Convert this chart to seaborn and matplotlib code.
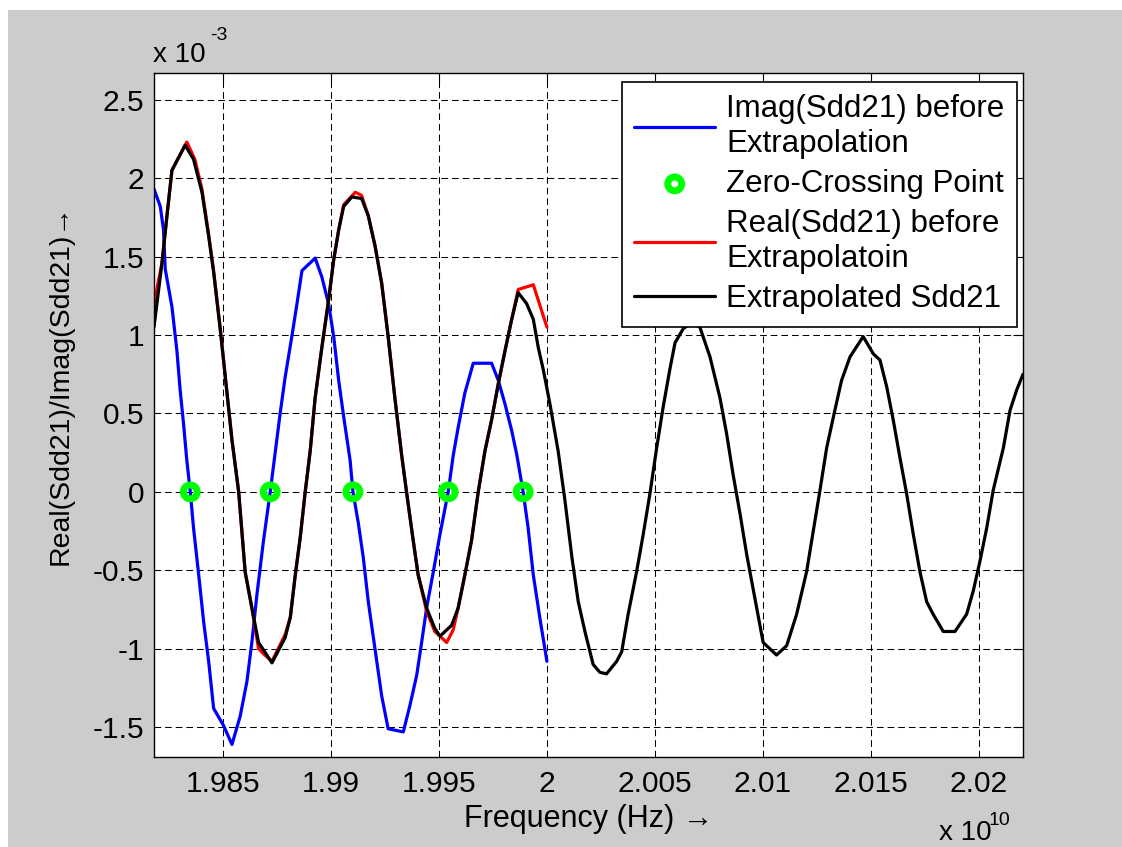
import matplotlib
matplotlib.use("Agg")
import matplotlib.pyplot as plt
from matplotlib.patches import Rectangle
from matplotlib.ticker import FuncFormatter
import seaborn as sns

# frequency in units of 1e10 Hz, S-parameter values in units of 1e-3
imag_freq = [1.98181, 1.98210, 1.98225, 1.98233, 1.98264, 1.98287, 1.98302, 1.98318, 1.98333, 1.98349,
             1.98364, 1.98388, 1.98411, 1.98434, 1.98457, 1.98503, 1.98542, 1.98580, 1.98611, 1.98634,
             1.98657, 1.98688, 1.98719, 1.98742, 1.98765, 1.98788, 1.98819, 1.98843, 1.98866, 1.98927,
             1.98958, 1.98989, 1.99013, 1.99036, 1.99059, 1.99089, 1.99102, 1.99127, 1.99150, 1.99173,
             1.99204, 1.99235, 1.99265, 1.99335, 1.99366, 1.99397, 1.99420, 1.99443, 1.99474, 1.99505,
             1.99543, 1.99566, 1.99589, 1.99620, 1.99659, 1.99744, 1.99775, 1.99806, 1.99837, 1.99860,
             1.99890, 1.99913, 1.99937, 1.99968, 2.00000]
imag_vals = [1.93, 1.82, 1.67, 1.42, 1.18, 0.90, 0.65, 0.43, 0.20, 0.00,
             -0.23, -0.53, -0.83, -1.08, -1.38, -1.49, -1.61, -1.43, -1.21, -0.96,
             -0.66, -0.31, 0.00, 0.25, 0.50, 0.73, 0.99, 1.20, 1.41, 1.49,
             1.37, 1.20, 0.99, 0.71, 0.48, 0.20, 0.00, -0.20, -0.42, -0.70,
             -1.00, -1.30, -1.51, -1.53, -1.36, -1.17, -0.96, -0.74, -0.51, -0.27,
             0.00, 0.23, 0.41, 0.63, 0.82, 0.82, 0.71, 0.56, 0.39, 0.24,
             0.00, -0.23, -0.53, -0.81, -1.08]

zero_freq = [1.98349, 1.98719, 1.99102, 1.99543, 1.99890]
zero_vals = [0.0, 0.0, 0.0, 0.0, 0.0]

real_freq = [1.98181, 1.98218, 1.98241, 1.98264, 1.98333, 1.98370, 1.98403, 1.98434, 1.98457, 1.98488,
             1.98519, 1.98542, 1.98573, 1.98603, 1.98634, 1.98665, 1.98694, 1.98727, 1.98788, 1.98812,
             1.98835, 1.98858, 1.98881, 1.98904, 1.98927, 1.98958, 1.98989, 1.99013, 1.99036, 1.99059,
             1.99113, 1.99142, 1.99173, 1.99204, 1.99235, 1.99265, 1.99296, 1.99327, 1.99350, 1.99381,
             1.99404, 1.99443, 1.99481, 1.99536, 1.99566, 1.99589, 1.99620, 1.99651, 1.99682, 1.99713,
             1.99744, 1.99775, 1.99806, 1.99837, 1.99867, 1.99937, 2.00000]
real_vals = [1.20, 1.46, 1.76, 2.05, 2.23, 2.12, 1.93, 1.64, 1.41, 1.04,
             0.63, 0.33, 0.00, -0.51, -0.74, -1.00, -1.04, -1.08, -0.91, -0.80,
             -0.53, -0.29, 0.00, 0.26, 0.60, 0.92, 1.22, 1.48, 1.67, 1.83,
             1.91, 1.89, 1.76, 1.57, 1.33, 0.99, 0.60, 0.24, 0.00, -0.31,
             -0.53, -0.76, -0.89, -0.96, -0.88, -0.74, -0.53, -0.31, 0.00, 0.26,
             0.46, 0.69, 0.90, 1.10, 1.29, 1.32, 1.05]

extrap_freq = [1.98181, 1.98218, 1.98241, 1.98264, 1.98325, 1.98364, 1.98403, 1.98434, 1.98457, 1.98488,
               1.98519, 1.98542, 1.98573, 1.98603, 1.98634, 1.98665, 1.98727, 1.98788, 1.98812, 1.98835,
               1.98858, 1.98881, 1.98904, 1.98927, 1.98958, 1.98989, 1.99013, 1.99036, 1.99059, 1.99097,
               1.99142, 1.99173, 1.99204, 1.99235, 1.99265, 1.99296, 1.99327, 1.99350, 1.99381, 1.99404,
               1.99443, 1.99481, 1.99505, 1.99559, 1.99589, 1.99620, 1.99651, 1.99682, 1.99713, 1.99744,
               1.99775, 1.99806, 1.99837, 1.99867, 1.99906, 1.99937, 1.99960, 1.99983, 2.00014, 2.00052,
               2.00083, 2.00116, 2.00145, 2.00176, 2.00214, 2.00245, 2.00276, 2.00323, 2.00346, 2.00376,
               2.00415, 2.00446, 2.00477, 2.00508, 2.00538, 2.00569, 2.00593, 2.00631, 2.00671, 2.00708,
               2.00755, 2.00801, 2.00832, 2.00862, 2.00894, 2.00925, 2.00963, 2.01001, 2.01063, 2.01110,
               2.01156, 2.01202, 2.01233, 2.01264, 2.01295, 2.01333, 2.01364, 2.01403, 2.01464, 2.01511,
               2.01542, 2.01573, 2.01603, 2.01634, 2.01665, 2.01696, 2.01727, 2.01758, 2.01788, 2.01835,
               2.01889, 2.01943, 2.01974, 2.02005, 2.02036, 2.02066, 2.02113, 2.02144, 2.02175, 2.02204]
extrap_vals = [1.05, 1.46, 1.76, 2.05, 2.21, 2.12, 1.91, 1.63, 1.40, 1.03,
               0.63, 0.33, 0.00, -0.51, -0.74, -0.96, -1.09, -0.93, -0.80, -0.53,
               -0.29, 0.00, 0.26, 0.60, 0.92, 1.22, 1.48, 1.67, 1.82, 1.88,
               1.87, 1.76, 1.57, 1.33, 0.99, 0.60, 0.24, 0.00, -0.31, -0.53,
               -0.74, -0.87, -0.92, -0.85, -0.74, -0.53, -0.31, 0.00, 0.26, 0.46,
               0.69, 0.90, 1.10, 1.27, 1.20, 1.10, 0.92, 0.78, 0.56, 0.26,
               -0.05, -0.42, -0.70, -0.89, -1.10, -1.15, -1.16, -1.08, -1.02, -0.78,
               -0.51, -0.27, -0.01, 0.28, 0.54, 0.78, 0.95, 1.04, 1.08, 1.05,
               0.86, 0.60, 0.37, 0.11, -0.14, -0.40, -0.68, -0.96, -1.04, -0.98,
               -0.78, -0.51, -0.25, 0.01, 0.28, 0.52, 0.71, 0.86, 0.99, 0.88,
               0.84, 0.67, 0.46, 0.22, -0.01, -0.27, -0.51, -0.70, -0.78, -0.89,
               -0.89, -0.78, -0.63, -0.44, -0.23, 0.01, 0.28, 0.52, 0.65, 0.75]

x_ticks = [1.985, 1.99, 1.995, 2.0, 2.005, 2.01, 2.015, 2.02]
y_ticks = [-1.5, -1.0, -0.5, 0.0, 0.5, 1.0, 1.5, 2.0, 2.5]

sns.set_theme(style="white", rc={"text.color": "black", "axes.labelcolor": "black",
                                 "xtick.color": "black", "ytick.color": "black"})
plt.rcParams['font.family'] = ['Liberation Sans', 'DejaVu Sans']

fig = plt.figure(figsize=(11.22, 8.47), dpi=100, facecolor='white')
# matlab style grey figure background (thin white strip top/left)
fig.add_artist(Rectangle((8 / 1122, 0), 1, 1 - 10 / 847, transform=fig.transFigure,
                         facecolor='#cccccc', edgecolor='none', zorder=-5))
ax = fig.add_axes([154 / 1122, 1 - 757 / 847, 869 / 1122, 684 / 847])
ax.set_facecolor('white')

lw = 2.3
sns.lineplot(x=imag_freq, y=imag_vals, color='#0000ff', linewidth=lw, sort=False, estimator=None,
             label='Imag(Sdd21) before\nExtrapolation', ax=ax)
sns.scatterplot(x=zero_freq, y=zero_vals, marker='o', s=100, facecolors='none', edgecolor='#00ff00',
                linewidth=5, label='Zero-Crossing Point', ax=ax, zorder=2.5)
sns.lineplot(x=real_freq, y=real_vals, color='#ff0000', linewidth=lw, sort=False, estimator=None,
             label='Real(Sdd21) before\nExtrapolatoin', ax=ax)
sns.lineplot(x=extrap_freq, y=extrap_vals, color='black', linewidth=lw, sort=False, estimator=None,
             label='Extrapolated Sdd21', ax=ax)

ax.set_xlim(extrap_freq[0], extrap_freq[-1])
ax.set_ylim(-1.69, 2.67)
ax.set_xticks(x_ticks)
ax.set_yticks(y_ticks)
fmt = FuncFormatter(lambda v, p: '%g' % round(v, 4))
ax.xaxis.set_major_formatter(fmt)
ax.yaxis.set_major_formatter(fmt)
ax.tick_params(direction='in', length=7, width=0.8, top=True, right=True, labelsize=21.5)
ax.tick_params(axis='x', pad=9)
ax.tick_params(axis='y', pad=7)
ax.grid(True, color='black', linestyle=(0, (6.4, 3.8)), linewidth=0.75)
for sp in ax.spines.values():
    sp.set_color('black')
    sp.set_linewidth(1.0)

ax.set_xlabel('Frequency (Hz) \u2192', fontsize=22)
ax.xaxis.set_label_coords(0.5, -0.068)
ax.set_ylabel('Real(Sdd21)/Imag(Sdd21)\u2192', fontsize=20.5)
ax.yaxis.set_label_coords(-0.093, 0.545)

# exponent labels like matlab
fig.text(153 / 1122, 1 - 62 / 847, 'x 10', fontsize=20, va='baseline', ha='left')
fig.text(210 / 1122, 1 - 40 / 847, '-3', fontsize=14, va='baseline', ha='left')
fig.text(939 / 1122, 1 - 840 / 847, 'x 10', fontsize=20, va='baseline', ha='left')
fig.text(988 / 1122, 1 - 825 / 847, '10', fontsize=14, va='baseline', ha='left')

leg = ax.legend(loc='upper right', bbox_to_anchor=(0.9931, 0.9873), borderaxespad=0,
                frameon=True, fancybox=False, framealpha=1, edgecolor='black', fontsize=22.5,
                handlelength=2.6, handletextpad=0.35, labelspacing=0.33, borderpad=0.4)
leg.get_frame().set_linewidth(1.2)
for t in leg.get_texts():
    t.set_linespacing(1.2)

fig.savefig('out.png', dpi=100, facecolor=fig.get_facecolor())
